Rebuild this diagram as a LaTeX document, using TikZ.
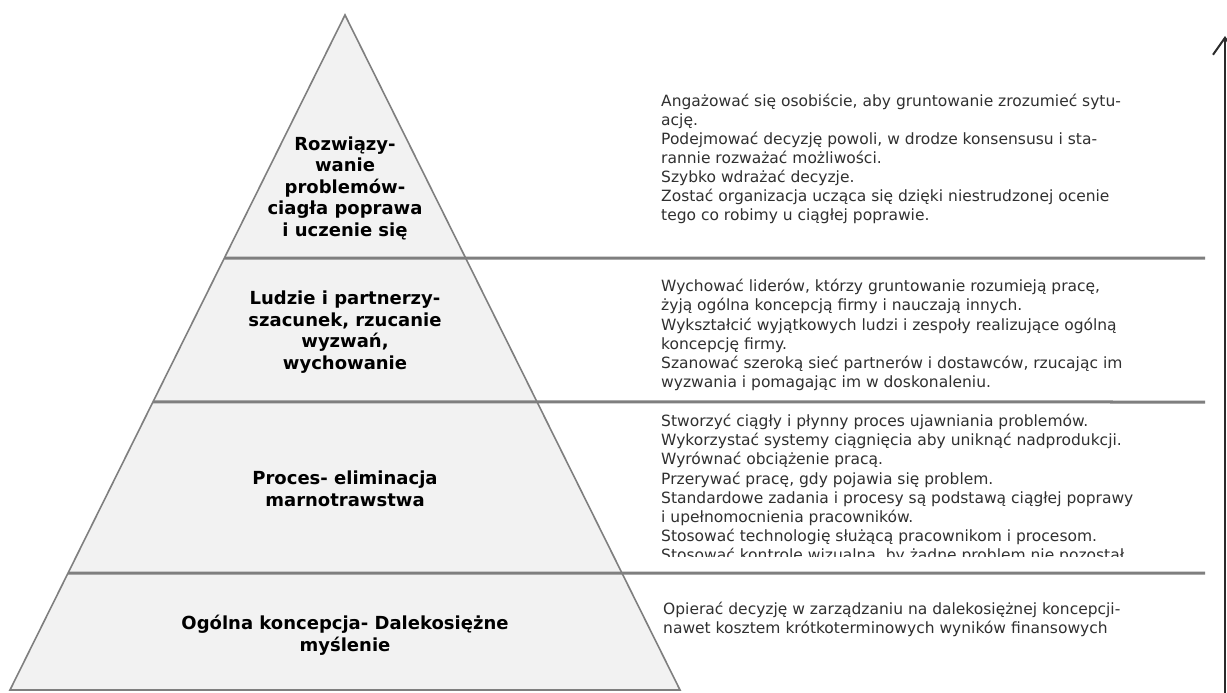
\documentclass[tikz,border=0pt]{standalone}
\usepackage{fontspec}
\setmainfont{DejaVu Sans}
\usetikzlibrary{arrows.meta,calc}
\definecolor{pyrfill}{HTML}{F2F2F2}
\definecolor{pyredge}{HTML}{7F7F7F}
\definecolor{txtgray}{HTML}{303030}
\definecolor{arrowcol}{HTML}{2B2B2B}
\tikzset{
  layerlabel/.style={font=\bfseries\fontsize{18bp}{21.5bp}\selectfont, align=center, text=black, inner sep=0pt},
  desctext/.style={font=\fontsize{15.5bp}{19.1bp}\selectfont, align=left, text=txtgray, inner sep=0pt, anchor=west},
  sepline/.style={draw=pyredge, line width=3bp},
  pyrline/.style={draw=pyredge, line width=1.6bp, line join=miter},
}
\begin{document}
\begin{tikzpicture}[x=1bp,y=-1bp]
\fill[white] (0,0) rectangle (1227,693);
\useasboundingbox (0,0) rectangle (1227,693);
% pyramid
\coordinate (apex) at (345,15);
\coordinate (bl) at (10,690);
\coordinate (br) at (680,690);
\fill[pyrfill] (apex) -- (bl) -- (br) -- cycle;
% separator end points
\coordinate (s1l) at ($(apex)!0.36!(bl)$);
\coordinate (s2l) at ($(apex)!0.5733!(bl)$);
\coordinate (s3l) at ($(apex)!0.8267!(bl)$);
\coordinate (s1r) at (1205,258);
\coordinate (s2r) at (1205,402);
\coordinate (s3r) at (1205,573);
\draw[sepline] (s1l) -- (s1r);
\draw[sepline] (s2l) -- (s2r);
\draw[sepline] (s3l) -- (s3r);
\draw[pyrline] (apex) -- (bl) -- (br) -- cycle;
% labels
\node[layerlabel] (l1) at (345,188) {Rozwiązy-\\wanie\\problemów-\\ciagła poprawa\\i uczenie się};
\node[layerlabel] (l2) at (345,332) {Ludzie i partnerzy-\\szacunek, rzucanie\\wyzwań,\\wychowanie};
\node[layerlabel] (l3) at (345,489) {Proces- eliminacja\\marnotrawstwa};
\node[layerlabel] (l4) at (345,635) {Ogólna koncepcja- Dalekosiężne\\myślenie};
% descriptions
\node[desctext] (d1) at (661,159) {Angażować się osobiście, aby gruntowanie zrozumieć sytu-\\ację.\\Podejmować decyzję powoli, w drodze konsensusu i sta-\\rannie rozważać możliwości.\\Szybko wdrażać decyzje.\\Zostać organizacja ucząca się dzięki niestrudzonej ocenie\\tego co robimy u ciągłej poprawie.};
\node[desctext] (d2) at (661,335) {Wychować liderów, którzy gruntowanie rozumieją pracę,\\żyją ogólna koncepcją firmy i nauczają innych.\\Wykształcić wyjątkowych ludzi i zespoły realizujące ogólną\\koncepcję firmy.\\Szanować szeroką sieć partnerów i dostawców, rzucając im\\wyzwania i pomagając im w doskonaleniu.};
\begin{scope}
\clip (640,404) rectangle (1200,556);
\node[desctext] (d3) at (661,489) {Stworzyć ciągły i płynny proces ujawniania problemów.\\Wykorzystać systemy ciągnięcia aby uniknąć nadprodukcji.\\Wyrównać obciążenie pracą.\\Przerywać pracę, gdy pojawia się problem.\\Standardowe zadania i procesy są podstawą ciągłej poprawy\\i upełnomocnienia pracowników.\\Stosować technologię służącą pracownikom i procesom.\\Stosować kontrole wizualna, by żadne problem nie pozostał};
\end{scope}
\node[desctext] (d4) at (663,619) {Opierać decyzję w zarządzaniu na dalekosiężnej koncepcji-\\nawet kosztem krótkoterminowych wyników finansowych};
% arrow
\coordinate (abot) at (1225,693);
\coordinate (atop) at (1225,36);
\draw[arrowcol, line width=2bp, -{Straight Barb[length=17bp,width=24bp,line width=2bp]}] (abot) -- (atop);
\end{tikzpicture}
\end{document}
